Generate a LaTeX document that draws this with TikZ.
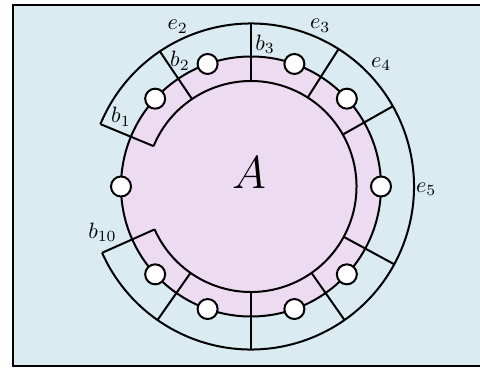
\documentclass[tikz,border=0pt]{standalone}
\usepackage{tikz}
\usetikzlibrary{calc}
\definecolor{bgblue}{RGB}{218,235,242}
\definecolor{diskpink}{RGB}{237,219,242}
\tikzset{
  lines/.style={black, line width=0.9pt},
  ball/.style={circle, draw=black, line width=0.9pt, fill=white, minimum size=9pt, inner sep=0pt},
  lbl/.style={inner sep=1pt, font=\normalsize}
}
\begin{document}
\begin{tikzpicture}[x=0.45pt,y=0.45pt]
\useasboundingbox (0,0) rectangle (480,369);
\fill[bgblue] (12.7,3.3) rectangle (484,363.5);
\draw[lines] (484,3.3) -- (12.7,3.3) -- (12.7,363.5) -- (484,363.5);
\coordinate (O) at (251,182.5);
\fill[diskpink] (O) circle[radius=130];
\draw[lines] (O) circle[radius=130];
% outer and inner arcs
\draw[lines] ($(O)+(157.5:163)$) arc[start angle=157.5, end angle=-156, radius=163];
\draw[lines] ($(O)+(157.5:105.5)$) arc[start angle=157.5, end angle=-156, radius=105.5];
% radial separators
\foreach \a in {157.5,124,90,57.5,29.5,-28.5,-55,-90,-125,-156}
  \draw[lines] ($(O)+(\a:105.5)$) -- ($(O)+(\a:163)$);
% small circles
\foreach \a [count=\i] in {0,42.5,70.5,109.5,137.5,180,-137.5,-109.5,-70.5,-42.5}
  \node[ball] (c\i) at ($(O)+(\a:130)$) {};
% labels
\node[lbl] (le2) at (177.7,342.3) {$e_2$};
\node[lbl] (le3) at (320.3,343.3) {$e_3$};
\node[lbl] (le4) at (381.3,305) {$e_4$};
\node[lbl] (le5) at (426.3,180) {$e_5$};
\node[lbl] (lb1) at (121,252.3) {$b_1$};
\node[lbl] (lb2) at (180,308.3) {$b_2$};
\node[lbl] (lb3) at (265,325) {$b_3$};
\node[lbl] (lb10) at (102.5,137) {$b_{10}$};
\node[inner sep=0pt] (lA) at (249,196) {\huge $A$};
\end{tikzpicture}
\end{document}
